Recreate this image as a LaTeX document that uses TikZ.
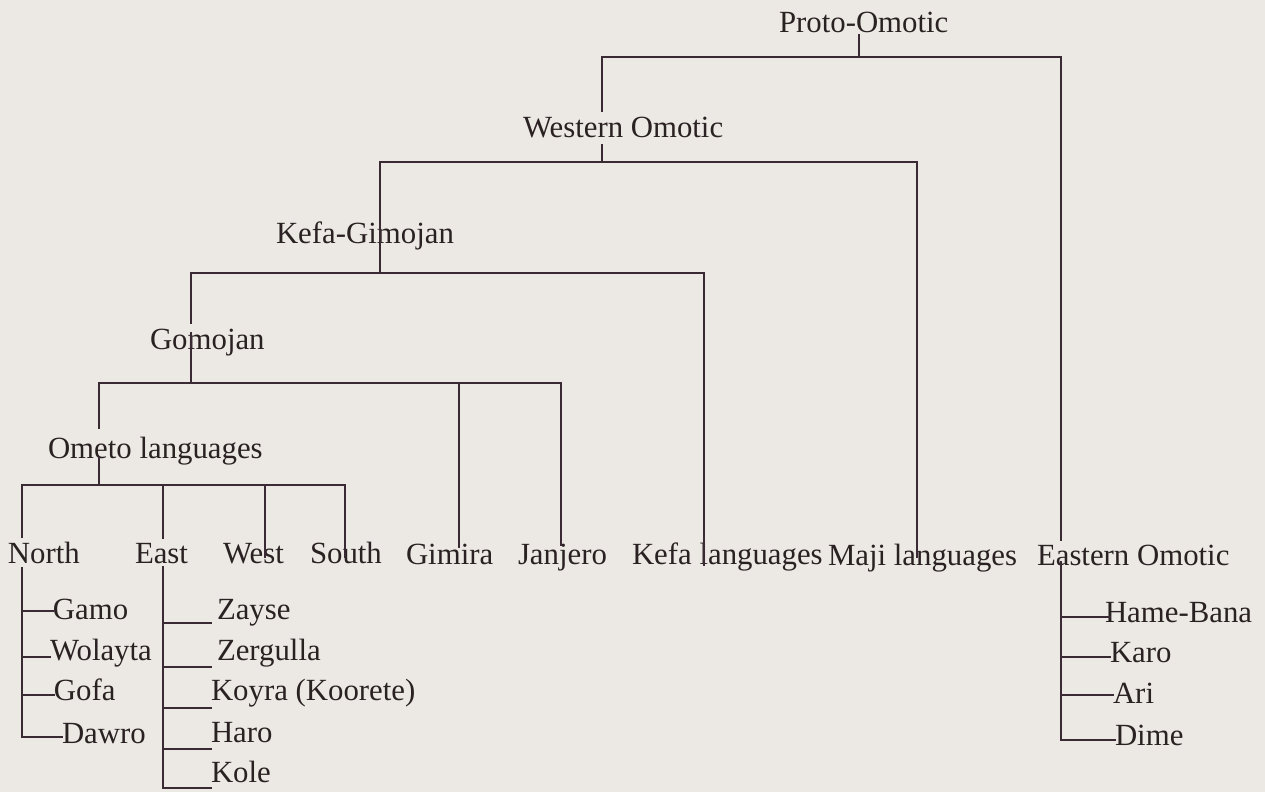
\documentclass[tikz,border=0pt]{standalone}
\usepackage{fontspec}
\setmainfont{Liberation Serif}
\begin{document}
\begin{tikzpicture}[x=0.5pt,y=-0.5pt,
  lbl/.style={anchor=base west,inner sep=0pt,outer sep=0pt,text=txt,font=\fontsize{15.4}{18}\selectfont},
  edge/.style={draw=ln,line width=1pt,line cap=rect}]
\definecolor{bg}{HTML}{ECE9E5}
\definecolor{txt}{HTML}{2A2222}
\definecolor{ln}{HTML}{3A2A33}
\fill[bg] (0,0) rectangle (1265,792);
\useasboundingbox (0,0) rectangle (1265,792);

% labels
\node[lbl] (proto) at (779,33) {Proto-Omotic};
\node[lbl] (west) at (523,138) {Western Omotic};
\node[lbl] (kg) at (276,243) {Kefa-Gimojan};
\node[lbl] (gom) at (150,350) {Gomojan};
\node[lbl] (ometo) at (48,458) {Ometo languages};
\node[lbl] (north) at (8,563) {North};
\node[lbl] (east) at (135,563) {East};
\node[lbl] (westo) at (223,563) {West};
\node[lbl] (south) at (310,563) {South};
\node[lbl] (gimira) at (406,564) {Gimira};
\node[lbl] (janjero) at (518,564) {Janjero};
\node[lbl] (kefa) at (632,564) {Kefa languages};
\node[lbl] (maji) at (828,565) {Maji languages};
\node[lbl] (eastern) at (1037,565) {Eastern Omotic};
\node[lbl] (gamo) at (53,619) {Gamo};
\node[lbl] (wolayta) at (50,660) {Wolayta};
\node[lbl] (gofa) at (54,700) {Gofa};
\node[lbl] (dawro) at (62,743) {Dawro};
\node[lbl] (zayse) at (217,619) {Zayse};
\node[lbl] (zergulla) at (217,660) {Zergulla};
\node[lbl] (koyra) at (211,700) {Koyra (Koorete)};
\node[lbl] (haro) at (211,742) {Haro};
\node[lbl] (kole) at (211,782) {Kole};
\node[lbl] (hame) at (1105,622) {Hame-Bana};
\node[lbl] (karo) at (1110,662) {Karo};
\node[lbl] (ari) at (1113,703) {Ari};
\node[lbl] (dime) at (1115,745) {Dime};

% junction coordinates
\coordinate (p0) at (859,35);
\coordinate (p1) at (859,57);
\coordinate (pl) at (602,57);
\coordinate (pr) at (1061,57);
\coordinate (w0) at (602,111);
\coordinate (w1) at (602,145);
\coordinate (w2) at (602,162);
\coordinate (wl) at (380,162);
\coordinate (wr) at (917,162);
\coordinate (majiT) at (917,557);
\coordinate (k1) at (380,273);
\coordinate (kl) at (191,273);
\coordinate (kr) at (704,273);
\coordinate (kefaT) at (704,565);
\coordinate (g0) at (191,323);
\coordinate (g1) at (191,333);
\coordinate (g2) at (191,383);
\coordinate (gl) at (99,383);
\coordinate (gm) at (459,383);
\coordinate (gr) at (561,383);
\coordinate (gimT) at (459,547);
\coordinate (janT) at (561,545);
\coordinate (o0) at (99,428);
\coordinate (o1) at (99,457);
\coordinate (o2) at (99,485);
\coordinate (ol) at (22,485);
\coordinate (oe) at (163,485);
\coordinate (ow) at (265,485);
\coordinate (os) at (345,485);
\coordinate (northT) at (22,537);
\coordinate (eastT) at (163,538);
\coordinate (westT) at (265,557);
\coordinate (southT) at (345,557);
\coordinate (eoT) at (1061,540);
% subtrees
\coordinate (nB) at (22,568);
\coordinate (n1) at (22,611);
\coordinate (n2) at (22,657);
\coordinate (n3) at (22,695);
\coordinate (n4) at (22,737);
\coordinate (eB) at (163,567);
\coordinate (e1) at (163,623);
\coordinate (e2) at (163,667);
\coordinate (e3) at (163,708);
\coordinate (e4) at (163,749);
\coordinate (e5) at (163,788);
\coordinate (xB) at (1061,562);
\coordinate (x1) at (1061,617);
\coordinate (x2) at (1061,657);
\coordinate (x3) at (1061,695);
\coordinate (x4) at (1061,740);

% connectors
\draw[edge] (p0) -- (p1);
\draw[edge] (pl) -- (pr);
\draw[edge] (pl) -- (w0);
\draw[edge] (pr) -- (eoT);
\draw[edge] (w1) -- (w2);
\draw[edge] (wl) -- (wr);
\draw[edge] (wr) -- (majiT);
\draw[edge] (wl) -- (k1);
\draw[edge] (kl) -- (kr);
\draw[edge] (kr) -- (kefaT);
\draw[edge] (kl) -- (g0);
\draw[edge] (g1) -- (g2);
\draw[edge] (gl) -- (gr);
\draw[edge] (gm) -- (gimT);
\draw[edge] (gr) -- (janT);
\draw[edge] (gl) -- (o0);
\draw[edge] (o1) -- (o2);
\draw[edge] (ol) -- (os);
\draw[edge] (ol) -- (northT);
\draw[edge] (oe) -- (eastT);
\draw[edge] (ow) -- (westT);
\draw[edge] (os) -- (southT);

\draw[edge] (nB) -- (n4);
\draw[edge] (n1) -- (gamo.west |- n1);
\draw[edge] (n2) -- (wolayta.west |- n2);
\draw[edge] (n3) -- (gofa.west |- n3);
\draw[edge] (n4) -- (dawro.west |- n4);

\draw[edge] (eB) -- (e5);
\draw[edge] (e1) -- ++(48,0) coordinate (e1r);
\draw[edge] (e2) -- ++(48,0) coordinate (e2r);
\draw[edge] (e3) -- (koyra.west |- e3);
\draw[edge] (e4) -- (haro.west |- e4);
\draw[edge] (e5) -- (kole.west |- e5);

\draw[edge] (xB) -- (x4);
\draw[edge] (x1) -- ++(49,0) coordinate (x1r);
\draw[edge] (x2) -- (karo.west |- x2);
\draw[edge] (x3) -- (ari.west |- x3);
\draw[edge] (x4) -- (dime.west |- x4);
\end{tikzpicture}
\end{document}
